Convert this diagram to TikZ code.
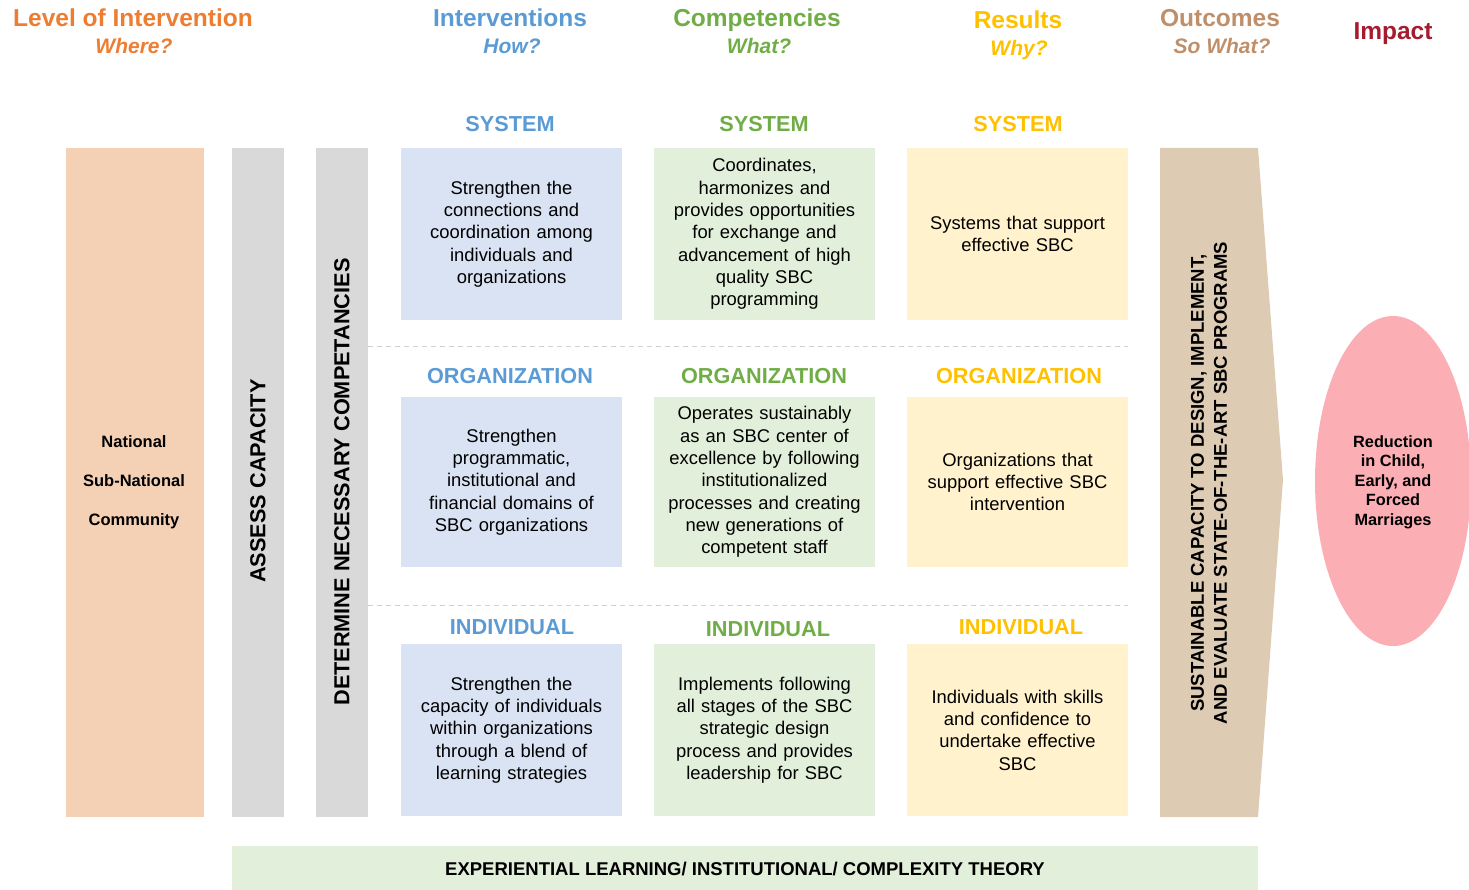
\documentclass[tikz,border=0pt]{standalone}
\usepackage{fontspec}
\setmainfont{Liberation Sans}
\usetikzlibrary{shapes.geometric}
\definecolor{cOr}{HTML}{ED7D31}
\definecolor{cBl}{HTML}{5B9BD5}
\definecolor{cGr}{HTML}{70AD47}
\definecolor{cYe}{HTML}{FFC000}
\definecolor{cTn}{HTML}{BF8F6A}
\definecolor{cRd}{HTML}{A51C30}
\definecolor{fPe}{HTML}{F4D1B5}
\definecolor{fGy}{HTML}{D9D9D9}
\definecolor{fBl}{HTML}{DAE3F3}
\definecolor{fGr}{HTML}{E2EFDA}
\definecolor{fYe}{HTML}{FFF2CC}
\definecolor{fTn}{HTML}{DDCBB4}
\definecolor{fPk}{HTML}{FBAFB5}
\tikzset{
  hdr/.style={font=\fontsize{24.5}{28}\selectfont\bfseries, anchor=base},
  sub/.style={font=\fontsize{21}{24}\selectfont\bfseries\itshape, anchor=base},
  rowhd/.style={font=\fontsize{21.7}{26}\selectfont\bfseries, anchor=base},
  body/.style={font=\fontsize{18.4}{22.3}\selectfont, align=center, text width=215pt},
  vert/.style={font=\fontsize{21.7}{24}\selectfont\bfseries, rotate=90},
}
\newcommand{\cellbox}[6]{% name, x, y, fill, text, height
  \fill[#4] (#2,#3) rectangle ++(221,#6);
  \node[body] (#1) at (#2+110.5,#3+#6/2) {#5};
}
\begin{document}
\begin{tikzpicture}[x=1pt,y=-1pt]
\useasboundingbox (0,0) rectangle (1469,890);
% headers
\node[hdr, text=cOr] (h1) at (133,27) {Level of Intervention};
\node[sub, text=cOr] (s1) at (134,54) {Where?};
\node[hdr, text=cBl] (h2) at (510,27) {Interventions};
\node[sub, text=cBl] (s2) at (512,54) {How?};
\node[hdr, text=cGr] (h3) at (757,27) {Competencies};
\node[sub, text=cGr] (s3) at (759,54) {What?};
\node[hdr, text=cYe] (h4) at (1018,29) {Results};
\node[sub, text=cYe] (s4) at (1019,56) {Why?};
\node[hdr, text=cTn] (h5) at (1220,27) {Outcomes};
\node[sub, text=cTn] (s5) at (1222,54) {So What?};
\node[hdr, text=cRd] (h6) at (1393,40) {Impact};

% left columns
\fill[fPe] (66,148) rectangle (204,817);
\node[font=\fontsize{16.5}{39}\selectfont\bfseries, align=center] (lev) at (134,482) {National\\Sub-National\\Community};
\fill[fGy] (232,148) rectangle (284,817);
\node[vert] (ac) at (258,481) {ASSESS CAPACITY};
\fill[fGy] (316,148) rectangle (368,817);
\node[vert] (dn) at (342,482) {DETERMINE NECESSARY COMPETANCIES};

% dashed separators
\draw[gray!35, line width=0.6pt, dash pattern=on 5pt off 4pt] (368,346) -- (1128,346);
\draw[gray!35, line width=0.6pt, dash pattern=on 5pt off 4pt] (368,605) -- (1128,605);

% row headings
\node[rowhd, text=cBl] at (510,132) {SYSTEM};
\node[rowhd, text=cGr] at (764,132) {SYSTEM};
\node[rowhd, text=cYe] at (1018,132) {SYSTEM};
\node[rowhd, text=cBl] at (510,383) {ORGANIZATION};
\node[rowhd, text=cGr] at (764,383) {ORGANIZATION};
\node[rowhd, text=cYe] at (1019,383) {ORGANIZATION};
\node[rowhd, text=cBl] at (512,634) {INDIVIDUAL};
\node[rowhd, text=cGr] at (768,636) {INDIVIDUAL};
\node[rowhd, text=cYe] at (1021,634) {INDIVIDUAL};

% cells
\cellbox{i1}{401}{148}{fBl}{Strengthen the\\connections and\\coordination among\\individuals and\\organizations}{172}
\cellbox{c1}{654}{148}{fGr}{Coordinates,\\harmonizes and\\provides opportunities\\for exchange and\\advancement of high\\quality SBC\\programming}{172}
\cellbox{r1}{907}{148}{fYe}{Systems that support\\effective SBC}{172}
\cellbox{i2}{401}{397}{fBl}{Strengthen\\programmatic,\\institutional and\\financial domains of\\SBC organizations}{170}
\cellbox{c2}{654}{397}{fGr}{Operates sustainably\\as an SBC center of\\excellence by following\\institutionalized\\processes and creating\\new generations of\\competent staff}{170}
\cellbox{r2}{907}{397}{fYe}{Organizations that\\support effective SBC\\intervention}{170}
\cellbox{i3}{401}{644}{fBl}{Strengthen the\\capacity of individuals\\within organizations\\through a blend of\\learning strategies}{172}
\cellbox{c3}{654}{644}{fGr}{Implements following\\all stages of the SBC\\strategic design\\process and provides\\leadership for SBC}{172}
\cellbox{r3}{907}{644}{fYe}{Individuals with skills\\and confidence to\\undertake effective\\SBC}{172}

% outcomes arrow
\fill[fTn] (1160,148) -- (1258,148) -- (1283,480) -- (1258,817) -- (1160,817) -- cycle;
\node[font=\fontsize{18.5}{23}\selectfont\bfseries, rotate=90, align=center] (oc) at (1209,483) {SUSTAINABLE CAPACITY TO DESIGN, IMPLEMENT,\\AND EVALUATE STATE-OF-THE-ART SBC PROGRAMS};

% impact ellipse
\node[ellipse, fill=fPk, minimum width=156pt, minimum height=330pt, inner sep=0pt] (imp) at (1393,481) {};
\node[font=\fontsize{16.3}{19.5}\selectfont\bfseries, align=center] (impt) at (1393,482) {Reduction\\in Child,\\Early, and\\Forced\\Marriages};

% bottom band
\fill[fGr] (232,846) rectangle (1258,890);
\node[font=\fontsize{18.5}{20}\selectfont\bfseries] (band) at (745,869) {EXPERIENTIAL LEARNING/ INSTITUTIONAL/ COMPLEXITY THEORY};
\end{tikzpicture}
\end{document}
